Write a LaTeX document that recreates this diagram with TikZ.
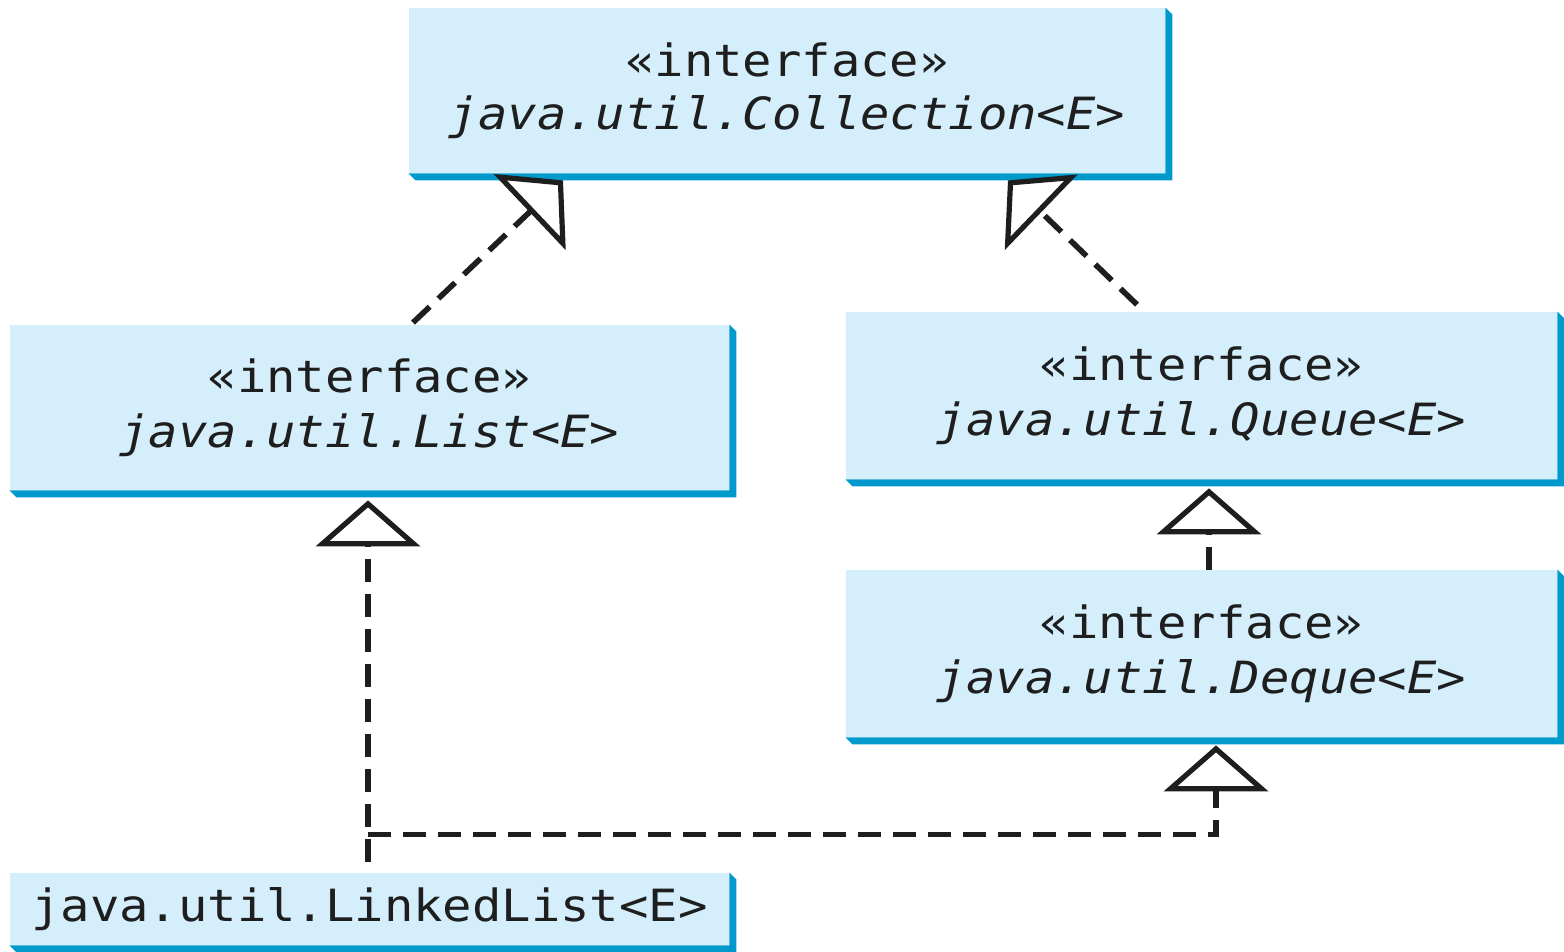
\documentclass[tikz,border=0pt]{standalone}
\usepackage{fontspec}
\setmainfont{DejaVu Sans Mono}[FakeStretch=1.1, ItalicFont={DejaVu Sans Mono Oblique}]
\usetikzlibrary{arrows.meta,calc}
\definecolor{boxfill}{RGB}{212,238,251}
\definecolor{shadowc}{RGB}{0,153,204}
\definecolor{ink}{RGB}{30,30,30}
\tikzset{
  umlbox/.style={fill=boxfill, draw=none, inner sep=0pt, align=center, text=ink,
    font=\fontsize{22.2}{27.5}\selectfont},
  dep/.style={draw=ink, line width=2.8pt, dash pattern=on 11.5pt off 6pt,
    -{Triangle[length=23pt,width=52pt,fill=white,line width=2.6pt]}}
}
\begin{document}
\begin{tikzpicture}[x=0.5pt,y=-0.5pt]
\useasboundingbox (0,0) rectangle (1564,952);
\node[umlbox, minimum width=378pt, minimum height=82.5pt] (coll) at (787,90.5)
  {\raisebox{-1pt}{«interface»}\\\textit{java.util.Collection<E>}};
\node[umlbox, minimum width=359.5pt, minimum height=82.5pt] (list) at (369.5,407.5)
  {«interface»\\\textit{java.util.List<E>}};
\node[umlbox, minimum width=355.5pt, minimum height=83.5pt] (queue) at (1201.5,395.5)
  {«interface»\\\textit{java.util.Queue<E>}};
\node[umlbox, minimum width=355.5pt, minimum height=83.5pt] (deque) at (1201.5,653.5)
  {«interface»\\\textit{java.util.Deque<E>}};
\node[umlbox, minimum width=359.5pt, minimum height=36pt] (ll) at (369.5,909)
  {\raisebox{-3pt}{java.util.LinkedList<E>}};
\foreach \n in {coll,list,queue,deque,ll}
  \fill[shadowc] (\n.south west) -- ++(7,7) -- ($(\n.south east)+(7,7)$)
    -- ($(\n.north east)+(7,7)$) -- (\n.north east) -- (\n.south east) -- cycle;
% connectors
\draw[dep] ($(list.north)+(43.5,-2)$) -- ($(coll.south)+(-224,7)$);
\draw[dep] ($(queue.north)+(-64.5,-7)$) -- ($(coll.south)+(221,7)$);
\draw[dep] ($(deque.north)+(7.5,0)$) -- ($(queue.south)+(7.5,9)$);
\draw[dep] ($(ll.north)+(-1.5,-11)$) -- ($(list.south)+(-1.5,10)$);
\coordinate (j) at ($(ll.north)+(-1.5,-38)$);
\draw[dep] (j) -| ($(deque.south)+(14.5,8)$);
\end{tikzpicture}
\end{document}
